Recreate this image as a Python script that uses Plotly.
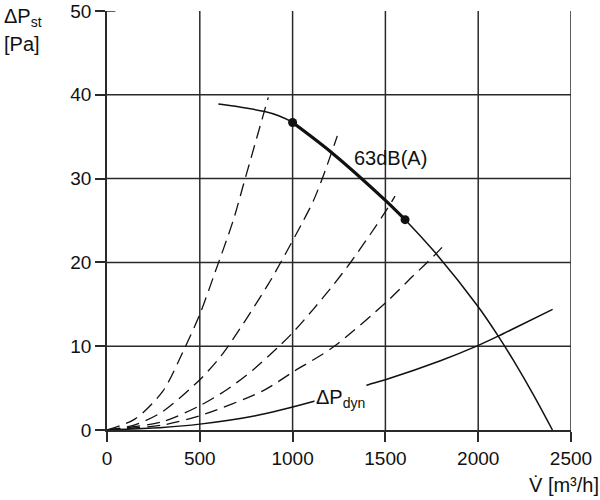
import plotly.graph_objects as go

# ---- data ----
x_ticks = [0, 500, 1000, 1500, 2000, 2500]
y_ticks = [0, 10, 20, 30, 40, 50]

fan_x = [600, 700, 850, 925, 1000, 1200, 1500, 1606, 1767, 2000, 2108, 2190, 2300, 2400]
fan_y = [38.9, 38.6, 38.0, 37.5, 36.7, 33.3, 27.4, 25.1, 21.2, 14.7, 11.2, 8.3, 4.1, 0.0]

op_x = [1000, 1606]          # 63 dB(A) operating range ends
op_y = [36.7, 25.1]

sys1_x = [0, 150, 300, 415, 500, 582, 680, 738, 869]
sys1_y = [0, 1.3, 4.6, 9.6, 13.8, 18.8, 25.0, 29.5, 39.7]
sys2_x = [0, 150, 300, 500, 627, 869, 941, 1049, 1111, 1165, 1241]
sys2_y = [0, 0.6, 2.2, 6.0, 9.2, 17.4, 20.2, 24.6, 27.3, 30.3, 35.1]
sys3_x = [0, 300, 500, 645, 788, 923, 1000, 1111, 1219, 1309, 1417, 1507, 1552]
sys3_y = [0, 1.0, 2.9, 4.8, 7.2, 9.9, 11.6, 14.4, 17.3, 19.9, 23.3, 26.3, 27.9]
sys4_x = [0, 300, 500, 842, 1000, 1219, 1507, 1650, 1767, 1830]
sys4_y = [0, 0.6, 1.7, 4.7, 6.9, 9.9, 15.3, 18.4, 20.9, 22.4]

dyn_x = [0, 300, 500, 800, 1111, 1408, 1500, 1800, 2001, 2108, 2200, 2401]
dyn_y = [0, 0.3, 0.7, 1.7, 3.4, 5.4, 6.0, 8.3, 10.1, 11.2, 12.2, 14.4]

label_db = "63dB(A)"
label_dyn = "ΔP<sub>dyn</sub>"

FONT = "Liberation Sans, Arial, sans-serif"
INK = "#111111"
GRID = "#2a2a2a"

fig = go.Figure()

for sx, sy in [(sys1_x, sys1_y), (sys2_x, sys2_y), (sys3_x, sys3_y), (sys4_x, sys4_y)]:
    fig.add_trace(go.Scatter(x=sx, y=sy, mode="lines",
                             line=dict(color=INK, width=1.3, dash="13px,7px", shape="spline", smoothing=0.8),
                             hoverinfo="skip", showlegend=False))

fig.add_trace(go.Scatter(x=dyn_x, y=dyn_y, mode="lines",
                         line=dict(color=INK, width=1.5, shape="spline", smoothing=0.8),
                         showlegend=False))

fig.add_trace(go.Scatter(x=fan_x, y=fan_y, mode="lines",
                         line=dict(color=INK, width=1.5, shape="spline", smoothing=0.8),
                         showlegend=False))

thick_x = [x for x in fan_x if op_x[0] <= x <= op_x[1]]
thick_y = [y for x, y in zip(fan_x, fan_y) if op_x[0] <= x <= op_x[1]]
fig.add_trace(go.Scatter(x=thick_x, y=thick_y, mode="lines",
                         line=dict(color=INK, width=3.2, shape="spline", smoothing=0.8),
                         showlegend=False))
fig.add_trace(go.Scatter(x=op_x, y=op_y, mode="markers",
                         marker=dict(color=INK, size=9), showlegend=False))

# grid lines (no line at the top)
shapes = []
for xv in x_ticks[1:]:
    shapes.append(dict(type="line", xref="x", yref="y", x0=xv, x1=xv, y0=y_ticks[0], y1=y_ticks[-1],
                       line=dict(color=GRID, width=1.5), layer="below"))
for yv in y_ticks[1:-1]:
    shapes.append(dict(type="line", xref="x", yref="y", x0=x_ticks[0], x1=x_ticks[-1], y0=yv, y1=yv,
                       line=dict(color=GRID, width=1.5), layer="below"))
# small stub crossing the axis at the top tick
shapes.append(dict(type="line", xref="x", yref="y", x0=x_ticks[0], x1=45, y0=y_ticks[-1], y1=y_ticks[-1],
                   line=dict(color=GRID, width=1.5)))

annotations = [
    dict(x=1525, y=32.5, xref="x", yref="y", text=label_db, showarrow=False,
         font=dict(family=FONT, size=20, color=INK)),
    dict(x=1258, y=3.8, xref="x", yref="y", text=label_dyn, showarrow=False,
         font=dict(family=FONT, size=20, color=INK), bgcolor="white", borderpad=1),
    dict(x=-0.227, y=0.985, xref="paper", yref="paper", xanchor="left", yanchor="middle",
         text="ΔP<sub>st</sub>", showarrow=False, font=dict(family=FONT, size=20, color=INK)),
    dict(x=-0.227, y=0.922, xref="paper", yref="paper", xanchor="left", yanchor="middle",
         text="[Pa]", showarrow=False, font=dict(family=FONT, size=20, color=INK)),
    dict(x=1.064, y=-0.131, xref="paper", yref="paper", xanchor="right", yanchor="middle",
         text="V\u0307 [m³/h]", showarrow=False, font=dict(family=FONT, size=20, color=INK)),
]

fig.update_layout(
    width=600, height=500,
    margin=dict(l=107, r=29, t=11, b=70),
    paper_bgcolor="white", plot_bgcolor="white",
    shapes=shapes, annotations=annotations,
    font=dict(family=FONT, size=19, color=INK),
    xaxis=dict(range=[x_ticks[0], x_ticks[-1]], tickvals=x_ticks, ticktext=[str(v) for v in x_ticks],
               showgrid=False, zeroline=False, showline=True, linecolor=GRID, linewidth=1.5,
               ticks="outside", ticklen=10, tickwidth=1.5, tickcolor=GRID, ticklabeloverflow="allow",
               automargin=False, tickfont=dict(family=FONT, size=19, color=INK)),
    yaxis=dict(range=[y_ticks[0], y_ticks[-1]], tickvals=y_ticks, ticktext=[str(v) for v in y_ticks],
               showgrid=False, zeroline=False, showline=True, linecolor=GRID, linewidth=1.5,
               ticks="outside", ticklen=10, tickwidth=1.5, tickcolor=GRID, ticklabeloverflow="allow",
               automargin=False, tickfont=dict(family=FONT, size=19, color=INK)),
    showlegend=False,
)

fig.write_html("out.html")
